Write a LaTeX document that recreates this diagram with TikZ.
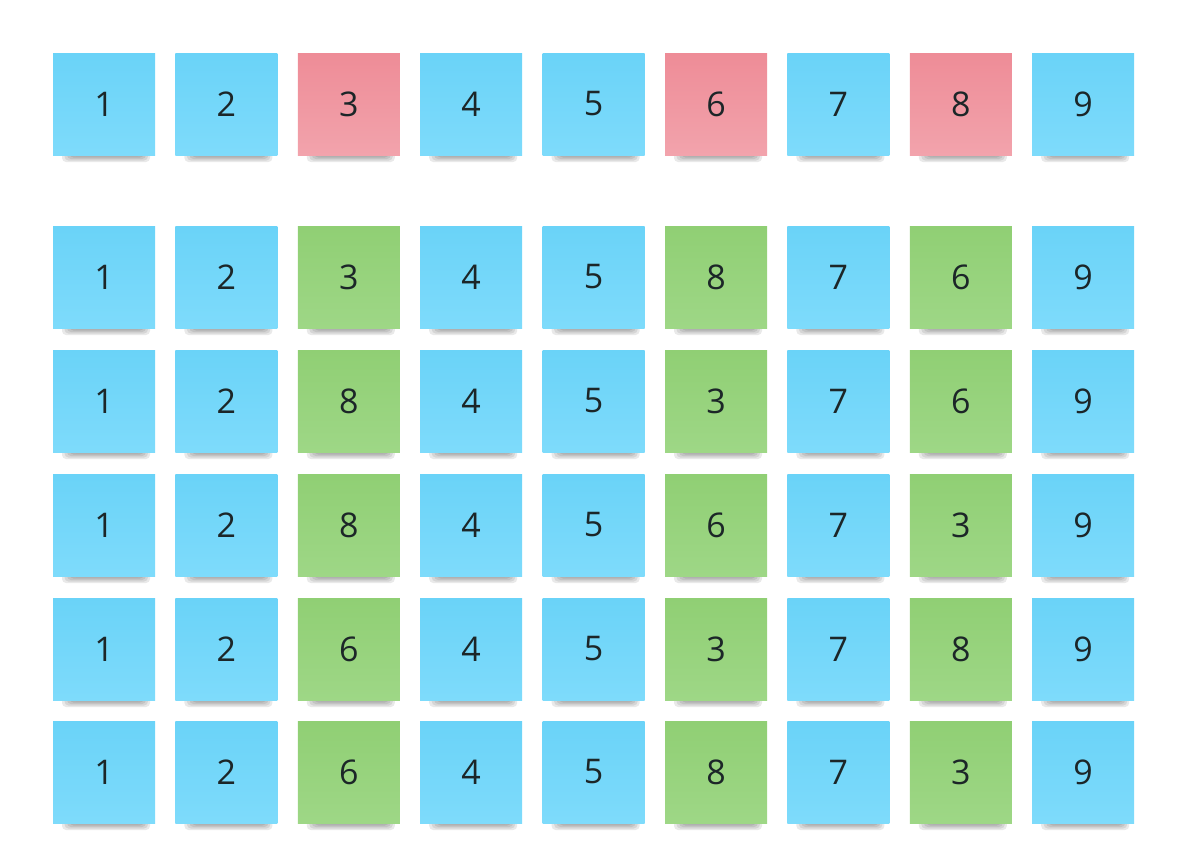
\documentclass[tikz,border=0pt]{standalone}
\usepackage{fontspec}
\setmainfont{Open Sans}
\definecolor{bluetop}{HTML}{6AD3F8}
\definecolor{bluebot}{HTML}{7EDBFB}
\definecolor{redtop}{HTML}{EE8C97}
\definecolor{redbot}{HTML}{F2A3AC}
\definecolor{greentop}{HTML}{90CF74}
\definecolor{greenbot}{HTML}{9ED786}
\definecolor{inktext}{HTML}{1C2628}
\tikzset{
  note/.style={minimum width=102pt, minimum height=102pt, inner sep=0pt,
    font=\fontsize{34}{34}\selectfont, text=inktext},
  bluenote/.style={note, top color=bluetop, bottom color=bluebot},
  rednote/.style={note, top color=redtop, bottom color=redbot},
  greennote/.style={note, top color=greentop, bottom color=greenbot},
  shadowlayer/.style={fill=black, opacity=0.085, rounded corners=4pt},
}
\begin{document}
\begin{tikzpicture}[x=1pt,y=-1pt]
\useasboundingbox (0,0) rectangle (1188,841);
\foreach \r/\cy/\vals in {1/104/{1/b,2/b,3/r,4/b,5/b,6/r,7/b,8/r,9/b},
  2/277/{1/b,2/b,3/g,4/b,5/b,8/g,7/b,6/g,9/b},
  3/401/{1/b,2/b,8/g,4/b,5/b,3/g,7/b,6/g,9/b},
  4/525/{1/b,2/b,8/g,4/b,5/b,6/g,7/b,3/g,9/b},
  5/649/{1/b,2/b,6/g,4/b,5/b,3/g,7/b,8/g,9/b},
  6/772/{1/b,2/b,6/g,4/b,5/b,8/g,7/b,3/g,9/b}}{
  \foreach \v/\c [count=\i from 0] in \vals {
    \pgfmathsetmacro{\cx}{104+122.4*\i}
    \foreach \k in {0,...,5}{
      \fill[shadowlayer]
        (\cx-42+\k*2.5, \cy+44) rectangle (\cx+46-\k*2, \cy+58-\k*1.5);
    }
    \if\c b\node[bluenote] (n\r-\i) at (\cx,\cy) {\v};\fi
    \if\c r\node[rednote] (n\r-\i) at (\cx,\cy) {\v};\fi
    \if\c g\node[greennote] (n\r-\i) at (\cx,\cy) {\v};\fi
  }
}
\end{tikzpicture}
\end{document}
